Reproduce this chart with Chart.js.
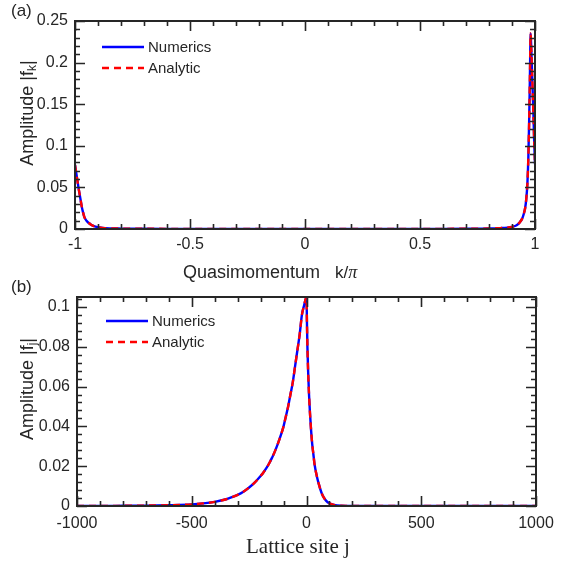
<!DOCTYPE html>
<html><head><meta charset="utf-8">
<script src="https://cdn.jsdelivr.net/npm/chart.js@4"></script>
<style>
html,body{margin:0;padding:0;background:#fff;}
#wrap{position:relative;width:577px;height:565px;overflow:hidden;background:#fff;}
.box{position:absolute;left:0;width:577px;}
#boxA{top:0;height:285px;}
#boxB{top:275px;height:290px;}
</style></head><body>
<div id="wrap">
<div class="box" id="boxA"><canvas id="cA"></canvas></div>
<div class="box" id="boxB"><canvas id="cB"></canvas></div>
</div>
<script>
// ---------- data ----------
const seriesNames = ['Numerics', 'Analytic'];

// panel (a): amplitude |f_k| against k/pi
const kValues = [-1, -0.995, -0.99, -0.985, -0.98, -0.975, -0.97, -0.965, -0.96, -0.955, -0.95, -0.94, -0.93, -0.92, -0.90, -0.88, -0.85, -0.80, -0.70, -0.60, -0.50, -0.40, -0.30, -0.20, -0.10, 0, 0.10, 0.20, 0.30, 0.40, 0.50, 0.60, 0.70, 0.80, 0.85, 0.88, 0.90, 0.92, 0.935, 0.945, 0.952, 0.957, 0.962, 0.967, 0.971, 0.975, 0.978, 0.981, 0.984, 0.987, 0.990, 0.993, 0.996, 1.0];
const numericsK = [0.077, 0.068, 0.059, 0.050, 0.042, 0.034, 0.026, 0.020, 0.015, 0.012, 0.0098, 0.0072, 0.0052, 0.0038, 0.0022, 0.0014, 0.0008, 0.0005, 0.0003, 0.0002, 0.0002, 0.0001, 0.0001, 0.0001, 0.0001, 0.0001, 0.0001, 0.0001, 0.0001, 0.0001, 0.0002, 0.0002, 0.0003, 0.0006, 0.0011, 0.0017, 0.0026, 0.0045, 0.0085, 0.013, 0.019, 0.025, 0.036, 0.055, 0.085, 0.135, 0.185, 0.235, 0.215, 0.190, 0.165, 0.140, 0.110, 0.078];
const analyticK = [0.077, 0.068, 0.059, 0.050, 0.042, 0.034, 0.026, 0.020, 0.015, 0.012, 0.0098, 0.0072, 0.0052, 0.0038, 0.0022, 0.0014, 0.0008, 0.0005, 0.0003, 0.0002, 0.0002, 0.0001, 0.0001, 0.0001, 0.0001, 0.0001, 0.0001, 0.0001, 0.0001, 0.0001, 0.0002, 0.0002, 0.0003, 0.0006, 0.0011, 0.0017, 0.0026, 0.0045, 0.0085, 0.013, 0.019, 0.025, 0.036, 0.055, 0.085, 0.135, 0.185, 0.235, 0.215, 0.190, 0.165, 0.140, 0.110, 0.078];

// panel (b): amplitude |f_j| against lattice site j
const siteValues = [-1000, -900, -800, -700, -600, -500, -450, -400, -350, -325, -300, -275, -250, -225, -200, -190, -175, -160, -150, -140, -125, -110, -100, -90, -80, -70, -60, -50, -40, -30, -20, -10, 0, 2, 4, 7, 11, 15, 20, 25, 30, 35, 45, 55, 65, 75, 85, 100, 120, 150, 200, 300, 400, 500, 600, 700, 800, 900, 1000];
const numericsJ = [0.0000, 0.0000, 0.0001, 0.0002, 0.0004, 0.0008, 0.0013, 0.0021, 0.0034, 0.0044, 0.0056, 0.0072, 0.0093, 0.0119, 0.0151, 0.0165, 0.0190, 0.0220, 0.0243, 0.0268, 0.0312, 0.0362, 0.040, 0.045, 0.050, 0.056, 0.062, 0.070, 0.078, 0.086, 0.096, 0.101, 0.105, 0.092, 0.080, 0.068, 0.056, 0.047, 0.038, 0.031, 0.026, 0.021, 0.0150, 0.0105, 0.0068, 0.0043, 0.0027, 0.0013, 0.0005, 0.0001, 0, 0, 0, 0, 0, 0, 0, 0, 0];
const analyticJ = [0.0000, 0.0000, 0.0001, 0.0002, 0.0004, 0.0008, 0.0013, 0.0021, 0.0034, 0.0044, 0.0056, 0.0072, 0.0093, 0.0119, 0.0151, 0.0165, 0.0190, 0.0220, 0.0243, 0.0268, 0.0312, 0.0362, 0.040, 0.045, 0.050, 0.056, 0.062, 0.070, 0.078, 0.086, 0.096, 0.101, 0.105, 0.092, 0.080, 0.068, 0.056, 0.047, 0.038, 0.031, 0.026, 0.021, 0.0150, 0.0105, 0.0068, 0.0043, 0.0027, 0.0013, 0.0005, 0.0001, 0, 0, 0, 0, 0, 0, 0, 0, 0];

// tick labels
const kTicks = [-1, -0.5, 0, 0.5, 1];
const ampKTicks = [0, 0.05, 0.1, 0.15, 0.2, 0.25];
const siteTicks = [-1000, -500, 0, 500, 1000];
const ampJTicks = [0, 0.02, 0.04, 0.06, 0.08, 0.1];

// ---------- styling ----------
const INK = '#262626';
const SANS = "'Liberation Sans', Arial, Helvetica, sans-serif";
const SERIF = "'Liberation Serif', 'Times New Roman', serif";
Chart.defaults.font.family = SANS;
Chart.defaults.color = INK;

const fmt = v => String(+Number(v).toFixed(4));

// inward MATLAB-like ticks on all four sides plus box
const framePlugin = {
  id: 'frame',
  afterDatasetsDraw(chart, args, o) {
    const { ctx, chartArea: a } = chart;
    const xs = chart.scales.x, ys = chart.scales.y;
    ctx.save();
    ctx.strokeStyle = INK;
    ctx.lineWidth = 1.6;
    ctx.beginPath();
    const steps = (min, max, step) => {
      const out = []; const n = Math.round((max - min) / step);
      for (let i = 0; i <= n; i++) out.push(+(min + i * step).toFixed(6));
      return out;
    };
    const xMajor = o.xMajor, yMajor = o.yMajor;
    const isMajor = (v, arr) => arr.some(m => Math.abs(m - v) < 1e-9);
    steps(o.xMin, o.xMax, o.xMinor).forEach(v => {
      const px = Math.round(xs.getPixelForValue(v)) + 0.5;
      const len = isMajor(v, xMajor) ? o.major : o.minor;
      ctx.moveTo(px, a.bottom); ctx.lineTo(px, a.bottom - len);
      ctx.moveTo(px, a.top); ctx.lineTo(px, a.top + len);
    });
    steps(o.yMin, o.yMax, o.yMinor).forEach(v => {
      const py = Math.round(ys.getPixelForValue(v)) + 0.5;
      const len = isMajor(v, yMajor) ? o.major : o.minor;
      ctx.moveTo(a.left, py); ctx.lineTo(a.left + len, py);
      ctx.moveTo(a.right, py); ctx.lineTo(a.right - len, py);
    });
    ctx.stroke();
    ctx.lineWidth = 2;
    ctx.strokeRect(a.left, a.top, a.right - a.left, a.bottom - a.top);
    ctx.restore();
  }
};

// legend inside plot, MATLAB style
const legendPlugin = {
  id: 'insideLegend',
  afterDraw(chart, args, o) {
    const { ctx } = chart;
    ctx.save();
    chart.data.datasets.forEach((ds, i) => {
      const y = o.y0 + i * o.dy;
      ctx.strokeStyle = ds.borderColor;
      ctx.lineWidth = ds.borderWidth;
      ctx.setLineDash(ds.borderDash || []);
      ctx.beginPath(); ctx.moveTo(o.x1, y); ctx.lineTo(o.x2, y); ctx.stroke();
      ctx.setLineDash([]);
      ctx.fillStyle = INK;
      ctx.font = '15px ' + SANS;
      ctx.textBaseline = 'middle';
      ctx.textAlign = 'left';
      ctx.fillText(ds.label, o.tx, y + 1);
    });
    ctx.restore();
  }
};

// axis titles with subscripts, and panel letter
const titlesPlugin = {
  id: 'titles',
  afterDraw(chart, args, o) {
    const { ctx } = chart;
    ctx.save();
    ctx.fillStyle = INK;
    // panel letter
    ctx.font = '17px ' + SANS;
    ctx.textBaseline = 'middle'; ctx.textAlign = 'left';
    ctx.fillText(o.panel, o.panelX, o.panelY);
    // y title (rotated) : main + subscript + tail
    ctx.save();
    ctx.translate(o.yTitleX, o.yTitleY);
    ctx.rotate(-Math.PI / 2);
    const mainFont = '18px ' + SANS, subFont = '12px ' + SANS;
    ctx.font = mainFont; const w1 = ctx.measureText(o.yMain).width;
    const w3 = ctx.measureText('|').width;
    ctx.font = subFont; const w2 = ctx.measureText(o.ySub).width;
    let x = -(w1 + w2 + w3) / 2;
    ctx.textAlign = 'left'; ctx.textBaseline = 'alphabetic';
    ctx.font = mainFont; ctx.fillText(o.yMain, x, 6); x += w1;
    ctx.font = subFont; ctx.fillText(o.ySub, x, 9); x += w2;
    ctx.font = mainFont; ctx.fillText('|', x, 6);
    ctx.restore();
    // x title
    ctx.textAlign = 'left'; ctx.textBaseline = 'alphabetic';
    let xx = o.xTitleX;
    o.xParts.forEach(p => {
      ctx.font = p.font;
      ctx.fillText(p.text, xx, o.xTitleY);
      xx += ctx.measureText(p.text).width;
    });
    ctx.restore();
  }
};

function baseOptions(cfg) {
  return {
    responsive: true,
    maintainAspectRatio: false,
    animation: false,
    devicePixelRatio: 1,
    layout: { padding: cfg.padding },
    plugins: {
      legend: { display: false },
      tooltip: { enabled: false },
      frame: cfg.frame,
      insideLegend: cfg.legend,
      titles: cfg.titles
    },
    scales: {
      x: {
        type: 'linear', min: cfg.xMin, max: cfg.xMax,
        grid: { display: false, drawTicks: false },
        border: { display: false },
        afterBuildTicks: s => { s.ticks = cfg.xTicks.map(v => ({ value: v })); },
        afterFit: s => { s.height = cfg.xHeight; },
        ticks: { font: { size: 16 }, color: INK, padding: cfg.xPad, maxRotation: 0, autoSkip: false, callback: fmt }
      },
      y: {
        type: 'linear', min: cfg.yMin, max: cfg.yMax,
        grid: { display: false, drawTicks: false },
        border: { display: false },
        afterBuildTicks: s => { s.ticks = cfg.yTicks.map(v => ({ value: v })); },
        afterFit: s => { s.width = cfg.yWidth; },
        ticks: { font: { size: 16 }, color: INK, padding: 7, autoSkip: false, callback: fmt }
      }
    }
  };
}

function makeDatasets(xs, num, ana) {
  return [
    { label: seriesNames[0], data: xs.map((x, i) => ({ x, y: num[i] })), borderColor: '#0000ff', borderWidth: 2.4, pointRadius: 0, fill: false, cubicInterpolationMode: 'monotone', order: 1 },
    { label: seriesNames[1], data: xs.map((x, i) => ({ x, y: ana[i] })), borderColor: '#ff0000', borderWidth: 2.4, borderDash: [7, 5], pointRadius: 0, fill: false, cubicInterpolationMode: 'monotone', order: 0 }
  ];
}

new Chart(document.getElementById('cA'), {
  type: 'line',
  data: { datasets: makeDatasets(kValues, numericsK, analyticK) },
  options: baseOptions({
    padding: { top: 21, right: 42, left: 0, bottom: 0 },
    xMin: -1, xMax: 1, yMin: 0, yMax: 0.25,
    xTicks: kTicks, yTicks: ampKTicks,
    xHeight: 56, yWidth: 75, xPad: 6,
    frame: { xMin: -1, xMax: 1, xMinor: 0.1, xMajor: kTicks, yMin: 0, yMax: 0.25, yMinor: 0.01, yMajor: ampKTicks, major: 10, minor: 5 },
    legend: { x1: 102, x2: 144, tx: 148, y0: 47, dy: 21 },
    titles: {
      panel: '(a)', panelX: 11, panelY: 11,
      yMain: 'Amplitude |f', ySub: 'k', yTitleX: 27, yTitleY: 113,
      xTitleX: 183, xTitleY: 278,
      xParts: [ { text: 'Quasimomentum   ', font: '18px ' + SANS }, { text: 'k/', font: '17px ' + SANS }, { text: 'π', font: 'italic 18px ' + SERIF } ]
    }
  }),
  plugins: [framePlugin, legendPlugin, titlesPlugin]
});

new Chart(document.getElementById('cB'), {
  type: 'line',
  data: { datasets: makeDatasets(siteValues, numericsJ, analyticJ) },
  options: baseOptions({
    padding: { top: 22, right: 41, left: 0, bottom: 0 },
    xMin: -1000, xMax: 1000, yMin: 0, yMax: 0.105,
    xTicks: siteTicks, yTicks: ampJTicks,
    xHeight: 59, yWidth: 77, xPad: 8,
    frame: { xMin: -1000, xMax: 1000, xMinor: 100, xMajor: siteTicks, yMin: 0, yMax: 0.104, yMinor: 0.004, yMajor: ampJTicks, major: 10, minor: 5 },
    legend: { x1: 106, x2: 148, tx: 152, y0: 46, dy: 21 },
    titles: {
      panel: '(b)', panelX: 11, panelY: 12,
      yMain: 'Amplitude |f', ySub: 'j', yTitleX: 27, yTitleY: 114,
      xTitleX: 246, xTitleY: 278,
      xParts: [ { text: 'Lattice site j', font: '21px ' + SERIF } ]
    }
  }),
  plugins: [framePlugin, legendPlugin, titlesPlugin]
});
</script>
</body></html>
